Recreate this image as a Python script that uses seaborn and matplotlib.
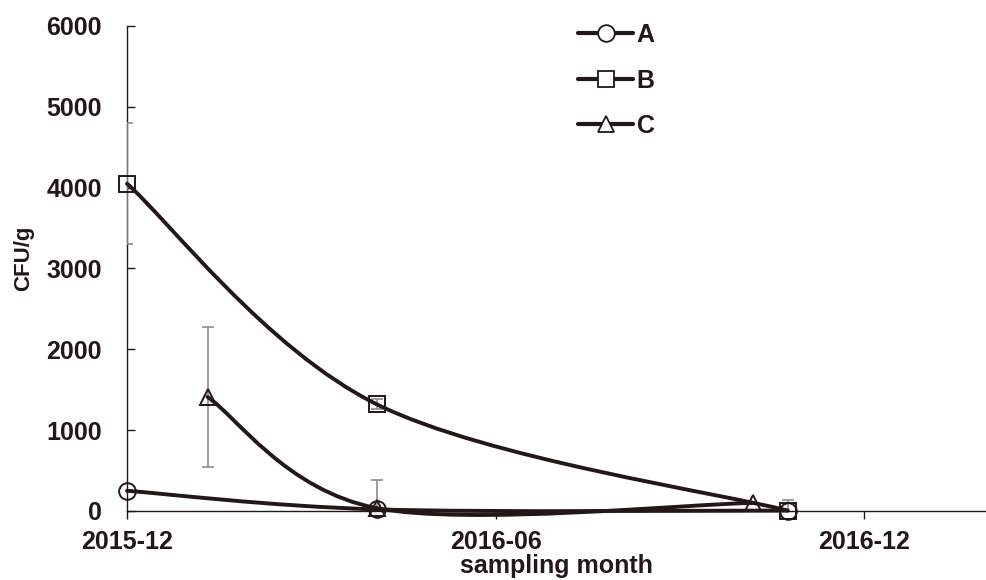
import numpy as np
import pandas as pd
import seaborn as sns
import matplotlib
matplotlib.use("Agg")
from matplotlib import pyplot as plt
import matplotlib.dates as mdates
from matplotlib.path import Path
from matplotlib.patches import PathPatch
from matplotlib.lines import Line2D

# data
dates_ab = ["2015-12-01", "2016-04-03", "2016-10-24"]
dates_c = ["2016-01-10", "2016-04-03", "2016-10-07"]
a_vals = [250, 20, 5]
a_err = [0, 365, 0]
b_vals = [4050, 1320, 5]
b_err = [750, 60, 125]
c_vals = [1410, 35, 100]
c_err = [865, 0, 0]

INK = "#231815"
GREY = "#8c8c8c"

series = [
    ("A", dates_ab, a_vals, a_err, "o", 12),
    ("B", dates_ab, b_vals, b_err, "s", 12),
    ("C", dates_c, c_vals, c_err, "^", 12),
]

sns.set_theme(style="white")
plt.rcParams["font.family"] = ["Liberation Sans", "DejaVu Sans"]
plt.rcParams["font.weight"] = "bold"


def smooth_path(xs, ys):
    # excel-style smoothed line: catmull-rom segments as cubic beziers
    pts = np.column_stack([xs, ys]).astype(float)
    n = len(pts)
    verts = [pts[0]]
    codes = [Path.MOVETO]
    for i in range(n - 1):
        p0 = pts[i - 1] if i > 0 else pts[i]
        p1 = pts[i]
        p2 = pts[i + 1]
        p3 = pts[i + 2] if i + 2 < n else pts[i + 1]
        verts += [p1 + (p2 - p0) / 6, p2 - (p3 - p1) / 6, p2]
        codes += [Path.CURVE4] * 3
    return Path(verts, codes)


fig = plt.figure(figsize=(9.86, 5.8), dpi=100)
ax = fig.add_axes([0.1288, 0.119, 0.8702, 0.8362])

for name, d, vals, err, mk, ms in series:
    df = pd.DataFrame({"date": pd.to_datetime(d), "val": vals, "err": err})
    # error bars (clipped to plot area)
    e = df[df.err > 0]
    ax.errorbar(e.date, e.val, yerr=e.err, fmt="none", ecolor=GREY,
                elinewidth=1.2, capsize=4, capthick=1.2, zorder=3)
    # smooth connecting curve
    xn = mdates.date2num(df.date)
    patch = PathPatch(smooth_path(xn, df.val), facecolor="none",
                      edgecolor=INK, lw=2.8, zorder=4, clip_on=False,
                      capstyle="round")
    ax.add_patch(patch)
    sns.lineplot(data=df, x="date", y="val", ax=ax, marker=mk, linestyle="",
                 markersize=ms, markerfacecolor="none", markeredgecolor=INK,
                 markeredgewidth=1.4, legend=False, zorder=5, clip_on=False)

ax.set_ylim(0, 6000)
ax.set_xlim(pd.Timestamp("2015-12-01"), pd.Timestamp("2017-01-30"))
ax.set_yticks(range(0, 6001, 1000))
ax.set_xticks(pd.to_datetime(["2015-12-01", "2016-06-01", "2016-12-01"]))
ax.xaxis.set_major_formatter(mdates.DateFormatter("%Y-%m"))

for s in ["top", "right"]:
    ax.spines[s].set_visible(False)
for s in ["left", "bottom"]:
    ax.spines[s].set_color(INK)
    ax.spines[s].set_linewidth(1.0)

ax.tick_params(axis="y", direction="in", length=6, width=1, color=INK,
               labelsize=18, labelcolor=INK, pad=18, left=True)
ax.tick_params(axis="x", direction="out", length=6, width=1, color=INK,
               labelsize=18, labelcolor=INK, pad=7.5, bottom=True)
for lab in ax.get_xticklabels() + ax.get_yticklabels():
    lab.set_fontweight("bold")

ax.set_xlabel("sampling month", fontsize=18, fontweight="bold", color=INK)
ax.xaxis.set_label_coords(0.5, -0.089)
ax.set_ylabel("CFU/g", fontsize=16, fontweight="bold", color=INK)
ax.yaxis.set_label_coords(-0.108, 0.52)

handles = [Line2D([], [], color=INK, lw=3, marker=mk, markersize=ms,
                  markerfacecolor="white", markeredgecolor=INK,
                  markeredgewidth=1.3)
           for _, _, _, _, mk, ms in series]
ax.legend(handles, [s[0] for s in series], loc="upper left",
          bbox_to_anchor=(578 / 986, 1 - 23 / 580),
          bbox_transform=fig.transFigure, frameon=False, borderpad=0,
          borderaxespad=0, handlelength=2.2, handletextpad=0.15,
          labelspacing=0.86, prop={"size": 18, "weight": "bold"},
          labelcolor=INK)

fig.savefig("out.png", dpi=100)
